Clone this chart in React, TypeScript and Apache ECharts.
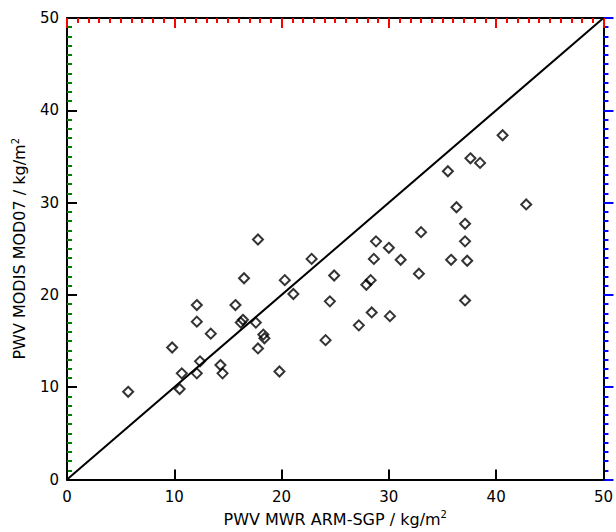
import React, { useEffect, useRef } from "react";
import * as echarts from "echarts";

const xTitle = "PWV MWR ARM-SGP / kg/m";
const yTitle = "PWV MODIS MOD07 / kg/m";
const axisMin = 0;
const axisMax = 50;
const tickStep = 10;

const mwrValues = [
  5.7, 10.5, 10.7, 9.8, 12.1, 12.4, 12.1, 12.1, 13.4, 14.3, 14.5, 15.7, 16.5,
  16.4, 16.2, 17.6, 17.8, 18.3, 18.4, 17.8, 19.8, 20.3, 21.1, 22.8, 24.9, 24.5,
  24.1, 27.2, 28.4, 30.1, 28.8, 30.0, 28.6, 31.1, 32.8, 33.0, 27.9, 28.3, 35.8,
  37.3, 37.1, 37.1, 36.3, 37.1, 35.5, 37.6, 38.5, 40.6, 42.8,
];
const modisValues = [
  9.5, 9.8, 11.5, 14.3, 11.5, 12.8, 17.1, 18.9, 15.8, 12.4, 11.5, 18.9, 21.8,
  17.3, 17.0, 17.0, 14.2, 15.7, 15.3, 26.0, 11.7, 21.6, 20.1, 23.9, 22.1, 19.3,
  15.1, 16.7, 18.1, 17.7, 25.8, 25.1, 23.9, 23.8, 22.3, 26.8, 21.1, 21.6, 23.8,
  23.7, 25.8, 27.7, 29.5, 19.4, 33.4, 34.8, 34.3, 37.3, 29.8,
];
const lineX = [0, 50];
const lineY = [0, 50];

const FONT = "DejaVu Sans";

export default function App() {
  const ref = useRef<HTMLDivElement>(null);
  useEffect(() => {
    if (!ref.current) return;
    const chart = echarts.init(ref.current, undefined, { renderer: "svg" });
    const rich = {
      base: { fontFamily: FONT, fontSize: 16, color: "#000" },
      sup: { fontFamily: FONT, fontSize: 10, color: "#000", padding: [0, 0, 9, 0] },
    };
    const label = (show: boolean, margin: number) => ({
      show,
      margin,
      color: "#000",
      fontFamily: FONT,
      fontSize: 15,
    });
    chart.setOption({
      animation: false,
      backgroundColor: "#fff",
      grid: { left: 67, right: 9, top: 18, bottom: 46, containLabel: false },
      xAxis: [
        {
          type: "value",
          min: axisMin,
          max: axisMax,
          interval: tickStep,
          position: "bottom",
          splitLine: { show: false },
          axisLine: { show: true, onZero: false, lineStyle: { color: "#000", width: 2 } },
          axisTick: { show: true, inside: true, length: 10, lineStyle: { color: "#000", width: 2 } },
          axisLabel: label(true, 10),
          name: "{base|" + xTitle + "}{sup|2}",
          nameLocation: "middle",
          nameGap: 30,
          nameTextStyle: { rich },
        },
        {
          type: "value",
          min: axisMin,
          max: axisMax,
          interval: tickStep,
          position: "top",
          splitLine: { show: false },
          axisLine: { show: true, onZero: false, lineStyle: { color: "#000", width: 2 } },
          axisTick: { show: true, inside: true, length: 10, lineStyle: { color: "red", width: 2 } },
          minorTick: { show: true, splitNumber: 10, length: 5, lineStyle: { color: "red", width: 2 } },
          axisLabel: { show: false },
        },
      ],
      yAxis: [
        {
          type: "value",
          min: axisMin,
          max: axisMax,
          interval: tickStep,
          position: "left",
          splitLine: { show: false },
          axisLine: { show: true, onZero: false, lineStyle: { color: "#000", width: 2 } },
          axisTick: { show: true, inside: true, length: 10, lineStyle: { color: "#000", width: 2 } },
          minorTick: { show: true, splitNumber: 10, length: 5, lineStyle: { color: "green", width: 2 } },
          axisLabel: label(true, 8),
          name: "{base|" + yTitle + "}{sup|2}",
          nameLocation: "middle",
          nameGap: 38,
          nameTextStyle: { rich },
        },
        {
          type: "value",
          min: axisMin,
          max: axisMax,
          interval: tickStep,
          position: "right",
          splitLine: { show: false },
          axisLine: { show: true, onZero: false, lineStyle: { color: "#000", width: 2 } },
          axisTick: { show: true, inside: false, length: 10, lineStyle: { color: "blue", width: 2 } },
          minorTick: { show: true, splitNumber: 10, length: 5, lineStyle: { color: "blue", width: 2 } },
          axisLabel: { show: false },
        },
      ],
      series: [
        {
          type: "line",
          xAxisIndex: 0,
          yAxisIndex: 0,
          data: lineX.map((x, i) => [x, lineY[i]]),
          showSymbol: false,
          symbol: "none",
          lineStyle: { color: "#000", width: 2 },
          silent: true,
        },
        {
          type: "scatter",
          xAxisIndex: 0,
          yAxisIndex: 0,
          data: mwrValues.map((x, i) => [x, modisValues[i]]),
          symbol: "diamond",
          symbolSize: 10,
          itemStyle: { color: "rgba(0,0,0,0)", borderColor: "#000", borderWidth: 2 },
        },
      ],
    });
    return () => chart.dispose();
  }, []);
  return (
    <div
      ref={ref}
      style={{ position: "fixed", left: 0, top: 0, width: 616, height: 532 }}
    />
  );
}
